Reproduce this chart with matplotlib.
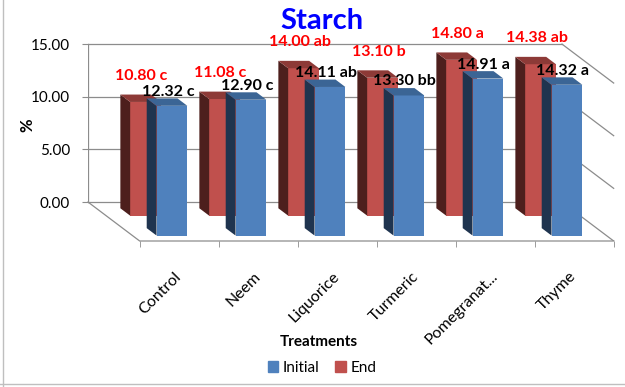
import matplotlib
matplotlib.use("Agg")
import matplotlib.pyplot as plt
from matplotlib.patches import Polygon, Patch
from matplotlib.lines import Line2D

plt.rcParams['font.family'] = ['Lato', 'DejaVu Sans']

# data
treatments = ["Control", "Neem", "Liquorice", "Turmeric", "Pomegranat...", "Thyme"]
initial = [12.32, 12.90, 14.11, 13.30, 14.91, 14.32]
end = [10.80, 11.08, 14.00, 13.10, 14.80, 14.38]
initial_letters = ["c", "c", "ab", "bb", "a", "a"]
end_letters = ["c", "c", "ab", "b", "a", "ab"]
yticks = [0, 5, 10, 15]

# fake 3d: oblique offset of the floor (back wall -> front edge), data units
DX, DY = 0.654, 3.70
GRID = "#8c8c8c"

fig = plt.figure(figsize=(6.25, 3.87), dpi=100)
W, H = 625, 387
ax = fig.add_axes([88 / W, (H - 241) / H, 532 / W, 211 / H])
ax.set_xlim(0, 532 / 79)
ax.set_ylim(-DY, 211 / 10.53 - DY)
for s in ax.spines.values():
    s.set_visible(False)

n = len(treatments)

# walls and floor
for v in yticks:
    ax.plot([0, n], [v, v], color=GRID, lw=0.9, zorder=1)
    ax.plot([n, n + DX], [v, v - DY], color=GRID, lw=0.9, zorder=1)
ax.plot([0, 0], [0, yticks[-1]], color=GRID, lw=0.9, zorder=1)
ax.plot([0, DX, n + DX], [0, -DY, -DY], color=GRID, lw=0.9, zorder=1, clip_on=False)


def draw_row(values, d0, d1, front, side, top, labels, color, lift):
    for i, v in enumerate(values):
        xl, xr = i + 0.305, i + 0.695
        ax.bar(i + 0.5 + DX * d1, v, width=xr - xl, bottom=-DY * d1,
               color=front, zorder=3, linewidth=0)
        side_pts = [(xl + DX * d1, -DY * d1), (xl + DX * d1, v - DY * d1),
                    (xl + DX * d0, v - DY * d0), (xl + DX * d0, -DY * d0)]
        top_pts = [(xl + DX * d1, v - DY * d1), (xr + DX * d1, v - DY * d1),
                   (xr + DX * d0, v - DY * d0), (xl + DX * d0, v - DY * d0)]
        ax.add_patch(Polygon(side_pts, closed=True, color=side, lw=0, zorder=3))
        ax.add_patch(Polygon(top_pts, closed=True, color=top, lw=0, zorder=3, clip_on=False))
        ax.annotate(f"{v:.2f} {labels[i]}", (i + 0.5 + DX * d1, v - DY * d1),
                    xytext=(-4, lift), textcoords="offset pixels",
                    ha="center", va="center", color=color,
                    fontsize=11.5, fontweight="bold", zorder=5, annotation_clip=False)


# back row (End) first, front row (Initial) over it
draw_row(end, 0.16, 0.35, "#C0504D", "#4D1F1D", "#8D3A37", end_letters, "#FF0000", 26)
draw_row(initial, 0.67, 0.86, "#4F81BD", "#1F344F", "#3B6595", initial_letters, "black", 14)

# y axis on the back wall
ax.set_yticks(yticks)
ax.set_yticklabels([f"{v:.2f}" for v in yticks], fontsize=11)
ax.tick_params(axis="y", length=4, color=GRID, pad=9)

# category labels along the front edge
ax.set_xticks([i + 0.5 + DX for i in range(n)])
ax.set_xticklabels(treatments, rotation=45, ha="right", va="center",
                   rotation_mode="anchor", fontsize=11.5)
ax.tick_params(axis="x", which="major", length=0, pad=24)
ax.set_xticks([i + DX for i in range(n + 1)], minor=True)
ax.tick_params(axis="x", which="minor", length=4, color=GRID)

fig.text(322 / W, 1 - 21 / H, "Starch", ha="center", va="center",
         fontsize=21, fontweight="bold", color="#0000FF")
fig.text(27 / W, 1 - 125 / H, "%", ha="center", va="center",
         fontsize=12, fontweight="bold", rotation=90)
fig.text(319 / W, 1 - 342 / H, "Treatments", ha="center", va="center",
         fontsize=11, fontweight="bold")

handles = [Patch(color="#4F81BD", label="Initial"), Patch(color="#C0504D", label="End")]
fig.legend(handles=handles, loc="center", bbox_to_anchor=(322 / W, 1 - 368 / H),
           ncol=2, frameon=False, fontsize=11, handlelength=0.7, handleheight=0.7,
           handletextpad=0.3, columnspacing=1.0)

# chart area border
fig.add_artist(Line2D([3 / W, 3 / W], [0, 1], color="#bfbfbf", lw=1))
fig.add_artist(Line2D([0, 1], [3 / H, 3 / H], color="#bfbfbf", lw=1))

fig.savefig("out.png", dpi=100)
